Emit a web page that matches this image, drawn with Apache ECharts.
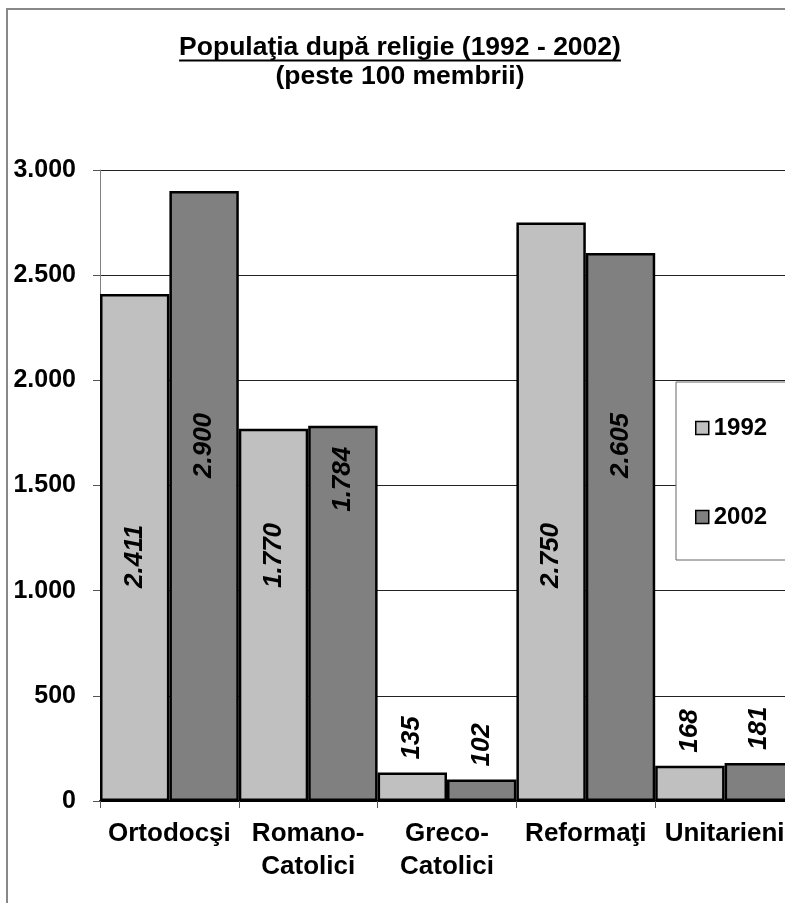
<!DOCTYPE html>
<html>
<head>
<meta charset="utf-8">
<title>Populaţia după religie (1992 - 2002)</title>
<script src="https://cdn.jsdelivr.net/npm/echarts@6/dist/echarts.min.js"></script>
<style>
  html, body { margin: 0; padding: 0; background: #fff; }
  #chart { width: 785px; height: 903px; }
</style>
</head>
<body>
<div id="chart"></div>
<script>
// Religious affiliation, number of members (groups with more than 100 members)
const categories = ['Ortodocşi', 'Romano-\nCatolici', 'Greco-\nCatolici', 'Reformaţi', 'Unitarieni'];
const seriesNames = ['1992', '2002'];
const values1992 = [2411, 1770, 135, 2750, 168];
const values2002 = [2900, 1784, 102, 2605, 181];
const yMin = 0;
const yMax = 3000;
const yStep = 500;

const titleMain = 'Populaţia după religie (1992 - 2002)';
const titleSub = '(peste 100 membrii)';

const FONT = '"Liberation Sans", Arial, Helvetica, sans-serif';
const LIGHT = '#c0c0c0';
const DARK = '#808080';
const TITLE_SIZE = 26.5;

// Thousands separated with a dot: 2411 -> "2.411"
function fmt(n) {
  return String(n).replace(/\B(?=(\d{3})+(?!\d))/g, '.');
}

// Where each value label sits: above short bars, inside tall ones
function labelFor(v, name) {
  if (v < 1000) return { position: 'top', distance: 13, align: 'left' };
  if (name === '1992') return { position: 'insideBottom', distance: 213, align: 'left' };
  if (v >= 2000) return { position: 'insideBottom', distance: 323, align: 'left' };
  return { position: 'insideTop', distance: 21, align: 'right' };
}

function buildData(values, name) {
  return values.map(v => ({ value: v, label: labelFor(v, name) }));
}

// Width of the first title line, for its underline
const measureCtx = document.createElement('canvas').getContext('2d');
measureCtx.font = 'bold ' + TITLE_SIZE + 'px ' + FONT;
const titleWidth = measureCtx.measureText(titleMain).width;
const titleCenterX = 400;

const valueLabel = {
  show: true,
  rotate: 90,
  verticalAlign: 'middle',
  color: '#000',
  fontFamily: FONT,
  fontSize: 26,
  fontWeight: 'bold',
  fontStyle: 'italic',
  textBorderWidth: 0,
  formatter: p => fmt(p.value)
};

const chart = echarts.init(document.getElementById('chart'), null, { renderer: 'canvas' });

chart.setOption({
  animation: false,
  backgroundColor: '#fff',
  textStyle: { fontFamily: FONT },
  title: {
    text: titleMain,
    subtext: titleSub,
    left: titleCenterX,
    top: 33.5,
    textAlign: 'center',
    padding: 0,
    itemGap: 0,
    textStyle: { fontFamily: FONT, fontSize: TITLE_SIZE, fontWeight: 'bold', color: '#000', lineHeight: 29 },
    subtextStyle: { fontFamily: FONT, fontSize: TITLE_SIZE, fontWeight: 'bold', color: '#000', lineHeight: 29 }
  },
  graphic: [
    {
      type: 'rect',
      silent: true,
      z: -10,
      shape: { x: 7, y: 9, width: 820, height: 920 },
      style: { fill: null, stroke: '#888', lineWidth: 2 }
    },
    {
      type: 'line',
      silent: true,
      shape: { x1: titleCenterX - titleWidth / 2, y1: 60.5, x2: titleCenterX + titleWidth / 2, y2: 60.5 },
      style: { stroke: '#000', lineWidth: 2 }
    }
  ],
  legend: {
    orient: 'vertical',
    left: 676,
    top: 382,
    padding: [34, 70, 31, 19],
    itemWidth: 13,
    itemHeight: 13,
    itemGap: 65,
    icon: 'rect',
    backgroundColor: '#fff',
    borderColor: '#666',
    borderWidth: 1,
    itemStyle: { borderColor: '#000', borderWidth: 1.5 },
    textStyle: { fontFamily: FONT, fontSize: 24, fontWeight: 'bold', color: '#000', lineHeight: 24 },
    data: seriesNames
  },
  grid: {
    left: 100,
    top: 170,
    right: -9,
    bottom: 102,
    containLabel: false,
    outerBoundsMode: 'none'
  },
  xAxis: {
    type: 'category',
    data: categories,
    axisLine: { show: true, lineStyle: { color: '#000', width: 2 } },
    axisTick: { show: true, length: 7, lineStyle: { color: '#555', width: 1 } },
    axisLabel: {
      interval: 0,
      hideOverlap: false,
      margin: 16,
      color: '#000',
      fontFamily: FONT,
      fontSize: 26,
      fontWeight: 'bold',
      lineHeight: 33
    },
    splitLine: { show: false }
  },
  yAxis: {
    type: 'value',
    min: yMin,
    max: yMax,
    interval: yStep,
    axisLine: { show: true, lineStyle: { color: '#808080', width: 1 } },
    axisTick: { show: true, length: 7, lineStyle: { color: '#555', width: 1 } },
    axisLabel: {
      margin: 24,
      color: '#000',
      fontFamily: FONT,
      fontSize: 25,
      fontWeight: 'bold',
      formatter: v => fmt(v)
    },
    splitLine: { show: true, lineStyle: { color: '#222', width: 1 } }
  },
  series: [
    {
      name: seriesNames[0],
      type: 'bar',
      data: buildData(values1992, seriesNames[0]),
      barGap: '0%',
      barCategoryGap: '0%',
      itemStyle: { color: LIGHT, borderColor: '#000', borderWidth: 2.5 },
      label: valueLabel
    },
    {
      name: seriesNames[1],
      type: 'bar',
      data: buildData(values2002, seriesNames[1]),
      barGap: '0%',
      barCategoryGap: '0%',
      itemStyle: { color: DARK, borderColor: '#000', borderWidth: 2.5 },
      label: valueLabel
    }
  ]
});
</script>
</body>
</html>
